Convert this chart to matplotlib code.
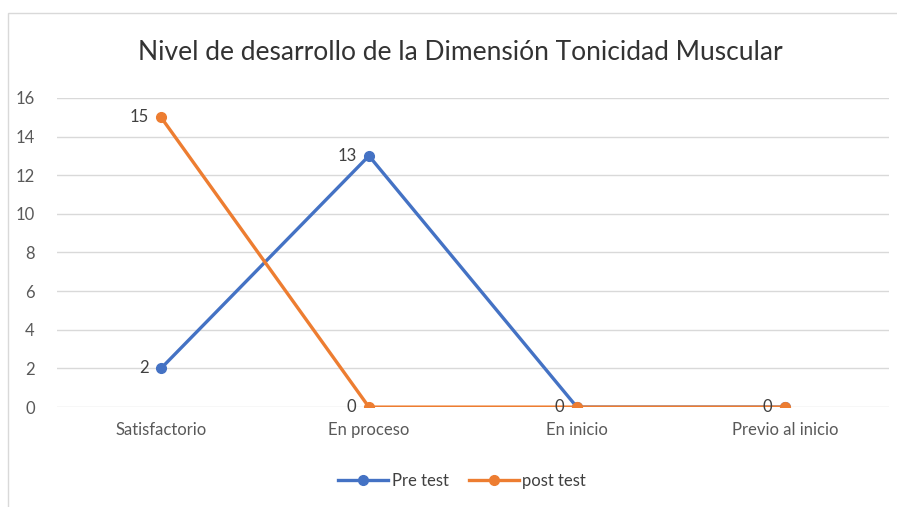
import matplotlib
matplotlib.use("Agg")
import matplotlib.pyplot as plt
import numpy as np

plt.rcParams['font.family'] = ['Lato', 'DejaVu Sans']

categories = ["Satisfactorio", "En proceso", "En inicio", "Previo al inicio"]
pre_test = [2, 13, 0, 0]
post_test = [15, 0, 0, 0]
yticks = [0, 2, 4, 6, 8, 10, 12, 14, 16]
title = "Nivel de desarrollo de la Dimensión Tonicidad Muscular"

blue = "#4472C4"
orange = "#ED7D31"

fig = plt.figure(figsize=(8.97, 5.07), dpi=100)
fig.patch.set_facecolor("white")
fig.add_artist(plt.Rectangle((0.009, -0.01), 1.2, 0.985, transform=fig.transFigure,
                             fill=False, edgecolor="#D9D9D9", linewidth=1))
ax = fig.add_axes([0.0635, 0.197, 0.9275, 0.61])
x = np.arange(len(categories))
ax.plot(x, pre_test, color=blue, lw=2.4, marker='o', ms=7, label="Pre test", zorder=3)
ax.plot(x, post_test, color=orange, lw=2.4, marker='o', ms=7, label="post test", zorder=4)

for xi, v in zip(x, pre_test):
    if v != 0:
        ax.annotate(str(v), (xi, v), xytext=(-9, 0), textcoords='offset points',
                    ha='right', va='center', fontsize=12, color="#404040")
for xi, v in zip(x, post_test):
    ax.annotate(str(v), (xi, v), xytext=(-9, 0), textcoords='offset points',
                ha='right', va='center', fontsize=12, color="#404040", zorder=5)

ax.set_xlim(-0.5, 3.5)
ax.set_ylim(0, 16)
ax.set_yticks(yticks)
ax.set_xticks(x)
ax.set_xticklabels(categories)
ax.grid(axis='y', color="#D9D9D9", lw=1)
ax.set_axisbelow(True)
for s in ax.spines.values():
    s.set_visible(False)
ax.tick_params(length=0, labelsize=12, labelcolor="#595959")
ax.tick_params(axis='x', pad=11)
ax.tick_params(axis='y', pad=16)

fig.text(0.513, 0.897, title, ha='center', va='center', fontsize=19, color="#333333")
fig.legend(loc='center', bbox_to_anchor=(0.515, 0.051), ncol=2, frameon=False,
           fontsize=12, handlelength=3, columnspacing=1.2, handletextpad=0.2,
           labelcolor="#404040")

fig.savefig("out.png", dpi=100, facecolor="white")
